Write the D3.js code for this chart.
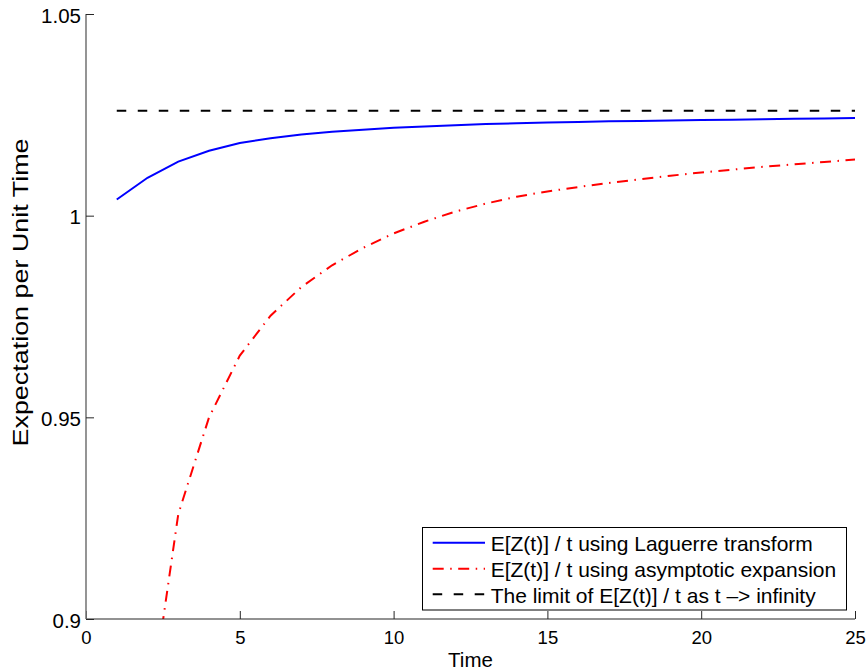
<!DOCTYPE html>
<html>
<head>
<meta charset="utf-8">
<script src="https://cdn.jsdelivr.net/npm/d3@7"></script>
<style>
  html, body { margin: 0; padding: 0; background: #fff; }
  svg { display: block; font-family: "Liberation Sans", Arial, Helvetica, sans-serif; }
</style>
</head>
<body>
<svg id="chart" width="868" height="672"></svg>
<script>
// Time points (t = 1 .. 25)
const timePoints = [1, 2, 3, 4, 5, 6, 7, 8, 9, 10, 11, 12, 13, 14, 15, 16, 17, 18, 19, 20, 21, 22, 23, 24, 25];

// E[Z(t)] / t computed with the Laguerre transform
const laguerreValues = [1.0040, 1.0094, 1.0134, 1.0161, 1.0180, 1.0192, 1.0201, 1.0208, 1.0213, 1.0218,
                        1.0221, 1.0224, 1.0227, 1.0229, 1.0231, 1.0232, 1.0234, 1.0235, 1.0236, 1.0237,
                        1.0238, 1.0239, 1.0240, 1.0241, 1.0242];

// E[Z(t)] / t from the asymptotic expansion (t = 1 falls far below the axis range)
const asymptoticValues = [null, 0.873, 0.926, 0.950, 0.9653, 0.9752, 0.9823, 0.9877, 0.9920, 0.9956,
                          0.9985, 1.0010, 1.0030, 1.0047, 1.0060, 1.0071, 1.0081, 1.0090, 1.0099, 1.0107,
                          1.0114, 1.0121, 1.0127, 1.0133, 1.0139];

// Limiting value of E[Z(t)] / t as t -> infinity
const limitValue = 1.0260;
const limitRange = [1, 25];

// Axis ticks and labels
const xTicks = [0, 5, 10, 15, 20, 25];
const yTicks = [0.9, 0.95, 1, 1.05];
const yTickLabels = ["0.9", "0.95", "1", "1.05"];

const seriesLabels = [
  "E[Z(t)] / t using Laguerre transform",
  "E[Z(t)] / t using asymptotic expansion",
  "The limit of E[Z(t)] / t as t \u2013> infinity"
];

const svg = d3.select("#chart");

const x = d3.scaleLinear().domain([0, 25]).range([86, 855]);
const y = d3.scaleLinear().domain([0.9, 1.05]).range([619, 14]);

// Clip region for the plot area
svg.append("defs").append("clipPath").attr("id", "plotClip")
  .append("rect")
  .attr("x", x(0)).attr("y", y(1.05))
  .attr("width", x(25) - x(0)).attr("height", y(0.9) - y(1.05));

const plot = svg.append("g").attr("clip-path", "url(#plotClip)");

const line = d3.line()
  .defined(d => d[1] != null)
  .x(d => x(d[0]))
  .y(d => y(d[1]));

// Limit (black dashed)
plot.append("path")
  .datum(limitRange.map(t => [t, limitValue]))
  .attr("d", line)
  .attr("fill", "none")
  .attr("stroke", "#000")
  .attr("stroke-width", 2)
  .attr("stroke-dasharray", "9.5,11.5");

// Asymptotic expansion (red dash-dot)
plot.append("path")
  .datum(timePoints.map((t, i) => [t, asymptoticValues[i]]))
  .attr("d", line)
  .attr("fill", "none")
  .attr("stroke", "#ff0000")
  .attr("stroke-width", 2)
  .attr("stroke-dasharray", "11,6.5,1.5,6.5");

// Laguerre transform (blue solid)
plot.append("path")
  .datum(timePoints.map((t, i) => [t, laguerreValues[i]]))
  .attr("d", line)
  .attr("fill", "none")
  .attr("stroke", "#0000ff")
  .attr("stroke-width", 2);

// Bottom axis with inward ticks
const xAxis = d3.axisBottom(x).tickValues(xTicks).tickSize(-8).tickFormat(d3.format("d"));
const gx = svg.append("g").attr("transform", `translate(0,${y(0.9)})`).call(xAxis);
gx.select(".domain").attr("stroke", "#262626").attr("stroke-width", 1.2).attr("d", `M${x(0)},0H${x(25)}`);
gx.selectAll(".tick line").attr("stroke", "#262626").attr("stroke-width", 1);
gx.selectAll(".tick text")
  .attr("y", 25).attr("dy", 0)
  .attr("fill", "#000")
  .style("font-size", "18.5px")
  .style("font-family", "'Liberation Sans', Arial, sans-serif");

// Left axis with inward ticks
const yAxis = d3.axisLeft(y).tickValues(yTicks).tickSize(-8)
  .tickFormat((d, i) => yTickLabels[i]);
const gy = svg.append("g").attr("transform", `translate(${x(0)},0)`).call(yAxis);
gy.select(".domain").attr("stroke", "#7a7a7a").attr("stroke-width", 1.6).attr("d", `M0,${y(0.9)}V${y(1.05)}`);
gy.selectAll(".tick line").attr("stroke", "#262626").attr("stroke-width", 1);
gy.selectAll(".tick text")
  .attr("x", -5).attr("dy", 8)
  .attr("fill", "#000")
  .style("font-size", "20.5px")
  .style("font-family", "'Liberation Sans', Arial, sans-serif");

// Axis titles
svg.append("text")
  .attr("x", (x(0) + x(25)) / 2).attr("y", 666.5)
  .attr("text-anchor", "middle")
  .style("font-size", "20.5px")
  .text("Time");

svg.append("text")
  .attr("transform", `translate(28,292.5) rotate(-90)`)
  .attr("text-anchor", "middle")
  .attr("textLength", 308)
  .attr("lengthAdjust", "spacingAndGlyphs")
  .style("font-size", "21.5px")
  .text("Expectation per Unit Time");

// Legend
const legend = svg.append("g");
legend.append("rect")
  .attr("x", 422.5).attr("y", 527.5)
  .attr("width", 424).attr("height", 82.5)
  .attr("fill", "#fff")
  .attr("stroke", "#000")
  .attr("stroke-width", 1);

const legendStyles = [
  { color: "#0000ff", dash: null },
  { color: "#ff0000", dash: "11,6.5,1.5,6.5" },
  { color: "#000", dash: "9.5,11.5" }
];
const rowY = [542.7, 568.8, 594.3];

seriesLabels.forEach((label, i) => {
  legend.append("line")
    .attr("x1", 432.7).attr("x2", 485)
    .attr("y1", rowY[i]).attr("y2", rowY[i])
    .attr("stroke", legendStyles[i].color)
    .attr("stroke-width", 2)
    .attr("stroke-dasharray", legendStyles[i].dash);
  legend.append("text")
    .attr("x", 490.7).attr("y", rowY[i] + 8.5)
    .style("font-size", "21px")
    .text(label);
});
</script>
</body>
</html>
